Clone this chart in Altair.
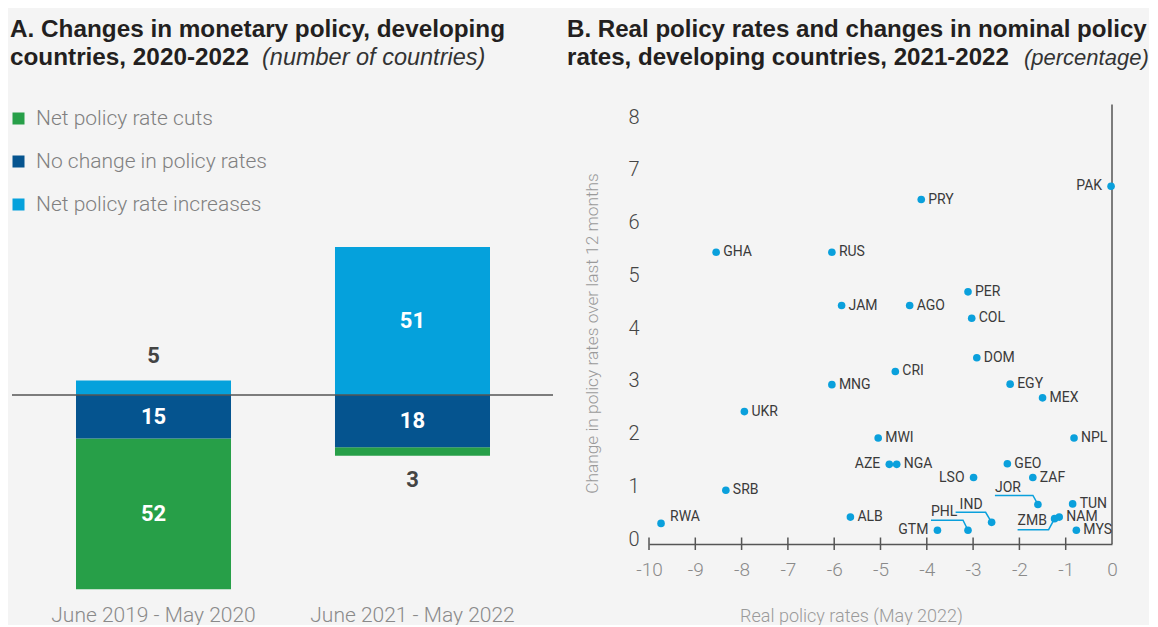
import altair as alt
import pandas as pd

# ---------------- Panel A data ----------------
periods = ["June 2019 - May 2020", "June 2021 - May 2022"]
categories = ["Net policy rate cuts", "No change in policy rates", "Net policy rate increases"]
cuts = [52, 3]
no_change = [15, 18]
increases = [5, 51]
bar_colors = ["#279f48", "#05548f", "#05a1dc"]

# ---------------- Panel B data ----------------
countries = ["PAK", "PRY", "GHA", "RUS", "PER", "JAM", "AGO", "COL", "DOM", "CRI", "MNG",
             "EGY", "MEX", "UKR", "MWI", "NPL", "AZE", "NGA", "GEO", "LSO", "ZAF", "SRB",
             "JOR", "TUN", "RWA", "ALB", "PHL", "IND", "NAM", "ZMB", "GTM", "MYS"]
real_rate = [-0.02, -4.12, -8.55, -6.05, -3.11, -5.84, -4.37, -3.03, -2.92, -4.68, -6.05,
             -2.20, -1.50, -7.94, -5.05, -0.82, -4.81, -4.65, -2.26, -2.99, -1.71, -8.34,
             -1.60, -0.85, -9.74, -5.65, -3.11, -2.60, -1.14, -1.24, -3.77, -0.77]
rate_change = [6.69, 6.44, 5.44, 5.44, 4.69, 4.43, 4.43, 4.19, 3.44, 3.18, 2.93,
               2.94, 2.68, 2.42, 1.92, 1.92, 1.42, 1.42, 1.43, 1.17, 1.17, 0.93,
               0.66, 0.67, 0.30, 0.42, 0.17, 0.32, 0.42, 0.39, 0.17, 0.17]
left_labelled = ["PAK", "AZE", "LSO", "GTM"]
upper_labelled = ["RWA"]
leader_labelled = ["JOR", "PHL", "IND", "ZMB"]
x_ticks = list(range(-10, 1))
x_tick_marks = list(range(-10, 0))
y_ticks = list(range(0, 9))

# ---------------- Texts ----------------
title_a1 = "A. Changes in monetary policy, developing"
title_a2 = "countries, 2020-2022"
title_a_unit = "(number of countries)"
title_b1 = "B. Real policy rates and changes in nominal policy"
title_b2 = "rates, developing countries, 2021-2022"
title_b_unit = "(percentage)"
x_title_b = "Real policy rates (May 2022)"
y_title_b = "Change in policy rates over last 12 months"

# ---------------- Layout / style ----------------
BG = "#f4f4f4"
LIGHT = "Roboto, sans-serif"
TITLE_FONT = "Liberation Sans, Arial, Helvetica, sans-serif"
LABEL_FONT = "Roboto, sans-serif"
W1, H1 = 545, 587
W2, H2 = 463, 536
SPACING = 96
YA_DOMAIN = [-69, 133.45]
XB_DOMAIN = [-10, 0]
YB_DOMAIN = [-0.09, 10.07]
FRAME_TOP = 8.24
PX_X = W2 / (XB_DOMAIN[1] - XB_DOMAIN[0])
PX_Y = H2 / (YB_DOMAIN[1] - YB_DOMAIN[0])
DOT = "#0aa0dc"
AXIS_COL = "#555555"
TITLE_A_SIZE = 24.3
TITLE_B_SIZE = 24.1

# leader-label geometry, pixel offsets from the point
LEADERS = {
    "JOR": {"text": (-43, -16), "path": [(-43, -9), (-5, -9), (0, 0)]},
    "PHL": {"text": (-37, -18), "path": [(-37, -10), (-5, -10), (0, 0)]},
    "IND": {"text": (-32, -17), "path": [(-36, -10), (-6, -10), (0, 0)]},
    "ZMB": {"text": (-37, 2), "path": [(-37, 11), (-6, 11), (0, 0)]},
}


def text_layer(txt, x, y, **kw):
    return alt.Chart(pd.DataFrame({"t": [txt]})).mark_text(
        align="left", baseline="alphabetic", **kw
    ).encode(x=alt.value(x), y=alt.value(y), text="t:N")


# ================= Panel A =================
rows, lab_rows = [], []
stack_rank = {categories[2]: 0, categories[1]: 1, categories[0]: 2}
for i, p in enumerate(periods):
    signed = {categories[0]: -cuts[i], categories[1]: -no_change[i], categories[2]: increases[i]}
    for c in categories:
        rows.append({"period": p, "category": c, "value": signed[c], "rank": stack_rank[c]})
    inc_s, inc_e = 0, increases[i]
    nc_s, nc_e = 0, -no_change[i]
    cu_s, cu_e = -no_change[i], -no_change[i] - cuts[i]
    for cnt, s, e in [(increases[i], inc_s, inc_e), (no_change[i], nc_s, nc_e), (cuts[i], cu_s, cu_e)]:
        lab_rows.append({"period": p, "count": cnt, "mid": (s + e) / 2, "end": e})
bars_df = pd.DataFrame(rows)
labs_df = pd.DataFrame(lab_rows)

xa = alt.X("period:N", sort=periods,
           scale=alt.Scale(domain=periods, range=[68, 482], paddingInner=0.4015, paddingOuter=0),
           axis=alt.Axis(title=None, domain=False, ticks=False, tickSize=0, labelAngle=0,
                         labelPadding=9, labelFont=LIGHT, labelFontSize=21, labelFontWeight=300,
                         labelColor="#8a8a8a", labelLimit=0, grid=False))
ya_scale = alt.Scale(domain=YA_DOMAIN, nice=False, zero=False)

bars = alt.Chart(bars_df).mark_bar(opacity=1).encode(
    x=xa,
    y=alt.Y("value:Q", stack="zero", scale=ya_scale, axis=None),
    order=alt.Order("rank:Q"),
    color=alt.Color("category:N", sort=categories,
                    scale=alt.Scale(domain=categories, range=bar_colors),
                    legend=alt.Legend(title=None, orient="none", legendX=0, legendY=100,
                                      symbolType="square", symbolSize=144, symbolStrokeWidth=0,
                                      symbolOpacity=1, labelFont=LIGHT, labelFontSize=21,
                                      labelFontWeight=300, labelColor="#808080",
                                      labelLimit=400, labelOffset=7, rowPadding=21,
                                      padding=0)),
)
zero_rule = alt.Chart(pd.DataFrame({"z": [0]})).mark_rule(color=AXIS_COL, strokeWidth=1.5).encode(
    y=alt.Y("z:Q", scale=ya_scale, axis=None), x=alt.value(4), x2=alt.value(W1))

inner = alt.Chart(labs_df[labs_df["count"] >= 10]).mark_text(
    font=LABEL_FONT, fontSize=22, fontWeight="bold", color="white", baseline="middle"
).encode(x=xa, y=alt.Y("mid:Q", scale=ya_scale, axis=None), text="count:Q")
outer_pos = alt.Chart(labs_df[(labs_df["count"] < 10) & (labs_df["end"] > 0)]).mark_text(
    font=LABEL_FONT, fontSize=22, fontWeight="bold", color="#444444", baseline="middle", dy=-24
).encode(x=xa, y=alt.Y("end:Q", scale=ya_scale, axis=None), text="count:Q")
outer_neg = alt.Chart(labs_df[(labs_df["count"] < 10) & (labs_df["end"] < 0)]).mark_text(
    font=LABEL_FONT, fontSize=22, fontWeight="bold", color="#444444", baseline="middle", dy=24
).encode(x=xa, y=alt.Y("end:Q", scale=ya_scale, axis=None), text="count:Q")

ta1 = text_layer(title_a1, 2, 28.7, font=TITLE_FONT, fontSize=TITLE_A_SIZE, fontWeight="bold", color="#231f20")
ta2 = text_layer(title_a2, 2, 57.3, font=TITLE_FONT, fontSize=TITLE_A_SIZE, fontWeight="bold", color="#231f20")
ta3 = text_layer(title_a_unit, 254, 57.3, font=TITLE_FONT, fontSize=23.5, fontStyle="italic",
                 fontWeight="normal", color="#333333")

left = alt.layer(bars, zero_rule, inner, outer_pos, outer_neg, ta1, ta2, ta3).properties(
    width=W1, height=H1)

# ================= Panel B =================
pts = pd.DataFrame({"country": countries, "x": real_rate, "y": rate_change})

xb = alt.X("x:Q", scale=alt.Scale(domain=XB_DOMAIN, nice=False, zero=False),
           axis=alt.Axis(values=x_ticks, labelExpr="'' + datum.value", grid=False, domain=True,
                         domainColor=AXIS_COL, domainWidth=1.5, ticks=False, tickSize=0,
                         labelPadding=16, labelFlush=False, labelFont=LIGHT, labelFontSize=19,
                         labelFontWeight=300, labelColor="#8a8a8a", title=x_title_b,
                         titleFont=LIGHT, titleFontSize=18, titleFontWeight=300,
                         titleColor="#9a9a9a", titleX=202, titleY=72,
                         titleAlign="center", titleBaseline="middle"))
yb = alt.Y("y:Q", scale=alt.Scale(domain=YB_DOMAIN, nice=False, zero=False),
           axis=alt.Axis(values=y_ticks, grid=False, domain=False, ticks=False, tickSize=0,
                         labelPadding=10, labelFont=LIGHT, labelFontSize=20, labelFontWeight=300,
                         labelColor="#444444", title=y_title_b, titleFont=LIGHT,
                         titleFontSize=17.3, titleFontWeight=300, titleColor="#9a9a9a",
                         titleAngle=270, titleX=-57, titleY=325,
                         titleAlign="center", titleBaseline="middle"))

frame = alt.Chart(pd.DataFrame({"x": [0]})).mark_rule(color=AXIS_COL, strokeWidth=1.5).encode(
    x=xb, y=alt.datum(FRAME_TOP), y2=alt.value(H2))
tick_marks = alt.Chart(pd.DataFrame({"x": x_tick_marks})).mark_rule(
    color=AXIS_COL, strokeWidth=1.5).encode(x=xb, y=alt.value(H2 - 6.5), y2=alt.value(H2 + 6))

lead_rows, lead_lab = [], []
for c in leader_labelled:
    i = countries.index(c)
    px, py = real_rate[i], rate_change[i]
    for k, (dx, dy) in enumerate(LEADERS[c]["path"]):
        lead_rows.append({"country": c, "k": k, "x": px + dx / PX_X, "y": py - dy / PX_Y})
    dx, dy = LEADERS[c]["text"]
    lead_lab.append({"country": c, "x": px + dx / PX_X, "y": py - dy / PX_Y})
lead_df = pd.DataFrame(lead_rows)
lead_lab_df = pd.DataFrame(lead_lab)

leaders = alt.Chart(lead_df).mark_line(color=DOT, strokeWidth=1.5).encode(
    x=xb, y=yb, detail="country:N", order="k:Q")
points = alt.Chart(pts).mark_circle(size=58, color=DOT, opacity=1).encode(x=xb, y=yb)

lab_kw = dict(font=LABEL_FONT, fontSize=14, fontWeight="normal", color="#3a3a3a", baseline="middle")
special = left_labelled + upper_labelled + leader_labelled
right_labs = alt.Chart(pts[~pts["country"].isin(special)]).mark_text(
    align="left", dx=7, **lab_kw).encode(x=xb, y=yb, text="country:N")
left_labs = alt.Chart(pts[pts["country"].isin(left_labelled)]).mark_text(
    align="right", dx=-9, **lab_kw).encode(x=xb, y=yb, text="country:N")
up_labs = alt.Chart(pts[pts["country"].isin(upper_labelled)]).mark_text(
    align="left", dx=9, dy=-6, **lab_kw).encode(x=xb, y=yb, text="country:N")
lead_labs = alt.Chart(lead_lab_df).mark_text(align="left", **lab_kw).encode(
    x=xb, y=yb, text="country:N")

tb1 = text_layer(title_b1, -82, 28.7, font=TITLE_FONT, fontSize=TITLE_B_SIZE, fontWeight="bold", color="#231f20")
tb2 = text_layer(title_b2, -82, 57.3, font=TITLE_FONT, fontSize=TITLE_B_SIZE, fontWeight="bold", color="#231f20")
tb3 = text_layer(title_b_unit, 375, 57.3, font=TITLE_FONT, fontSize=22, fontStyle="italic",
                 fontWeight="normal", color="#333333")

right = alt.layer(frame, tick_marks, leaders, points, right_labs, left_labs, up_labs, lead_labs,
                  tb1, tb2, tb3).properties(width=W2, height=H2)

chart = alt.hconcat(left, right, spacing=SPACING, bounds="flush").properties(
    padding=0, background=BG
).configure_view(stroke=None)

chart.save("out.html", embed_options={"renderer": "svg", "actions": False})
